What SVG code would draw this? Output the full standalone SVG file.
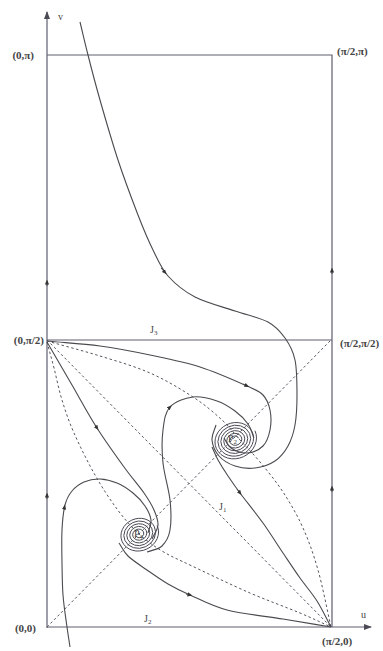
<svg xmlns="http://www.w3.org/2000/svg" width="383" height="651" viewBox="0 0 383 651">
<style>
.frame{fill:none;stroke:#5e5e70;stroke-width:1.2}
.traj{fill:none;stroke:#4a4a4f;stroke-width:1.1}
.dash{fill:none;stroke:#55555f;stroke-width:1;stroke-dasharray:2.5,2.5}
.spiral{fill:none;stroke:#4a4a55;stroke-width:1}
.lbl{font-family:"Liberation Serif","Times New Roman",serif;font-size:11px;font-weight:bold;fill:#444}
.sm{font-family:"Liberation Serif","Times New Roman",serif;font-size:10px;fill:#444}
.ah{fill:none;stroke:#4a4a4f;stroke-width:1}
</style>
<defs>
<marker id="axis" viewBox="0 0 8 6" refX="7" refY="3" markerWidth="8" markerHeight="6" markerUnits="userSpaceOnUse" orient="auto"><path d="M0,0 L8,3 L0,6 z" fill="#4a4a55"/></marker>
<marker id="a" viewBox="0 0 6 6" refX="3" refY="3" markerWidth="5" markerHeight="5" markerUnits="userSpaceOnUse" orient="auto"><path d="M0,0.5 L6,3 L0,5.5 z" fill="#333"/></marker>
</defs>
<rect width="383" height="651" fill="#fff"/>

<g id="axes">
<line class="frame" x1="47" y1="628" x2="47" y2="12" marker-end="url(#axis)"/>
<line class="frame" x1="47" y1="627" x2="371" y2="627" marker-end="url(#axis)"/>
<polyline class="frame" points="47,55 332,55 332,627"/>
<line class="frame" x1="47" y1="340" x2="332" y2="340"/>
</g>

<g id="dashed">
<line class="dash" x1="47" y1="627" x2="331" y2="340"/>
<line class="dash" x1="47" y1="340" x2="331" y2="627"/>
<path class="dash" d="M47,341 C64.7,346 82.8,350.7 100,356 S134.5,366.2 150,373 S181,389.2 193,397 S214.2,412.8 222,420 S233.7,433 240,440 S252.8,453.3 260,462 S275.8,481 283,492 S297.2,515 303,528 S313.3,553.5 318,570 S326.7,608 331,627"/>
<path class="dash" d="M47,342 C49.3,350.7 51.5,358.3 54,368 S58.7,389.2 62,400 S68.5,420.5 74,433 S87.8,462.3 95,475 S109.8,499.3 117,509 S130.5,526 138,533 S153,545.5 162,551 S177.3,559 192,566 S232,585.2 250,593 S286.5,607.3 300,613 S320.7,622.3 331,627"/>
</g>

<g id="connectors">
<path class="traj" d="M80,22 C82.7,33 84.7,42 88,55 S95,82.5 100,100 S111.7,140.8 118,160 S132.2,200 138,215 S148,239.8 153,250 S161,268.2 168,276 S183.8,291.2 195,297 S222.8,306.8 235,311 S259.7,317.5 268,322 S280.5,331.7 285,338 S293,350.5 295,360 S297,384.2 297,395 S296.5,416.5 295,425 S291.3,440 288,446 S280.5,457.3 275,461 S261.7,467.2 255,468 S241,468 235,466 S222.8,460.3 219,456 S212.5,445.2 212,440 S214.7,430 216,425"/>
<path class="traj" d="M47,341 C64.7,342.7 82.8,343.7 100,346 S133.3,351.5 150,355 S183.8,361.8 200,367 S236.5,381.3 247,386 S259.2,391 263,395 S268.8,404.2 270,410 S271.2,424 270,430 S266.8,442.2 263,446 S252.3,452.7 247,453 S234.8,450.5 231,448 S226.3,441.3 224,438"/>
<path class="traj" d="M47,342 C55.3,356.3 63.7,370.7 72,385 S88.3,414.3 97,428 S116.2,456.2 124,467 S139,485.8 144,493 S151.7,504.7 154,510 S158.3,520.2 158,525 S154,534.3 152,539"/>
<path class="traj" d="M147,552 C152,550 158.2,549.7 162,546 S168.7,537.7 170,530 S171.2,511.2 170,500 S164.2,474.7 163,463 S161.8,439.3 163,430 S165,412.5 170,407 S185.2,398 193,397 S210,398.7 217,401 S229.8,407.2 235,411 S244.8,419.5 248,424 S252,433.3 254,438"/>
<path class="traj" d="M212,447 C214,451.3 215.3,455.2 218,460 S224.3,470.5 228,476 S234.2,485.2 240,493 S255.8,513 263,523 S276.8,543.8 283,553 S294.3,570 300,578 S311.8,592.8 317,601 S326.3,618.3 331,627"/>
<path class="traj" d="M119,543 C122,547.3 123.3,551.5 128,556 S140.3,565.3 147,570 S160.8,579.8 168,584 S180.2,590.7 190,595 S211.5,606 227,610 S265.7,616.2 283,619 S315,624.3 331,627"/>
<path class="traj" d="M70,647 C69,640.3 68.2,635.7 67,627 S63.8,605.7 63,595 S62.2,573.8 62,563 S61.5,539.7 62,530 S63.3,511.5 65,505 S68.8,494.8 72,491 S79.3,484 84,482 S94.5,478.8 100,479 S111.5,480.7 117,483 S128.3,489.2 133,493 S142,501.5 145,506 S150.5,515.5 151,520 S149,528.7 148,533"/>
<g class="ah">
<path d="M161,268 L165,272.5" marker-end="url(#a)"/>
<path d="M243,384 L247,386" marker-end="url(#a)"/>
<path d="M95,425 L97,428" marker-end="url(#a)"/>
<path d="M168,409 L170,407" marker-end="url(#a)"/>
<path d="M237,489 L240,493" marker-end="url(#a)"/>
<path d="M186,594 L190,595" marker-end="url(#a)"/>
<path d="M64,510 L64.5,507" marker-end="url(#a)"/>
<path d="M47,286 L47,282" marker-end="url(#a)"/>
<path d="M47,499 L47,495" marker-end="url(#a)"/>
<path d="M332,274 L332,270" marker-end="url(#a)"/>
<path d="M332,492 L332,488" marker-end="url(#a)"/>
</g>
</g>

<g id="P2">
<path class="spiral" vector-effect="non-scaling-stroke" transform="translate(235,440) rotate(-25) scale(1,0.88)" d="M22,0 A21.25,21.25 0 0 1 -20.5,0 A19.75,19.75 0 0 1 19,0 A18.25,18.25 0 0 1 -17.5,0 A16.75,16.75 0 0 1 16,0 A15.25,15.25 0 0 1 -14.5,0 A13.75,13.75 0 0 1 13,0 A12.25,12.25 0 0 1 -11.5,0 A10.75,10.75 0 0 1 10,0 A9.25,9.25 0 0 1 -8.5,0 A7.75,7.75 0 0 1 7,0 A6.25,6.25 0 0 1 -5.5,0 A4.75,4.75 0 0 1 4,0"/>
<text class="sm" x="228" y="442">P<tspan font-size="7" dy="2">2</tspan></text>
</g>

<g id="P4">
<path class="spiral" vector-effect="non-scaling-stroke" transform="translate(139,534) rotate(-25) scale(1,0.88)" d="M20,0 A19.25,19.25 0 0 1 -18.5,0 A17.75,17.75 0 0 1 17,0 A16.25,16.25 0 0 1 -15.5,0 A14.75,14.75 0 0 1 14,0 A13.25,13.25 0 0 1 -12.5,0 A11.75,11.75 0 0 1 11,0 A10.25,10.25 0 0 1 -9.5,0 A8.75,8.75 0 0 1 8,0 A7.25,7.25 0 0 1 -6.5,0 A5.75,5.75 0 0 1 5,0 A4.25,4.25 0 0 1 -3.5,0"/>
<text class="sm" x="134" y="537">P<tspan font-size="7" dy="2">4</tspan></text>
</g>

<g id="labels">
<text class="sm" x="58" y="20" font-size="9">v</text>
<text class="sm" x="361" y="618" font-size="9">u</text>
<text class="lbl" x="34" y="59" text-anchor="end">(0,π)</text>
<text class="lbl" x="337" y="55">(π/2,π)</text>
<text class="lbl" x="44" y="344" text-anchor="end">(0,π/2)</text>
<text class="lbl" x="340" y="347">(π/2,π/2)</text>
<text class="lbl" x="36" y="632" text-anchor="end">(0,0)</text>
<text class="lbl" x="322" y="645">(π/2,0)</text>
<text class="sm" x="150" y="333">J<tspan font-size="7" dy="2">3</tspan></text>
<text class="sm" x="219" y="510">J<tspan font-size="7" dy="2">1</tspan></text>
<text class="sm" x="144" y="622">J<tspan font-size="7" dy="2">2</tspan></text>
</g>
</svg>
